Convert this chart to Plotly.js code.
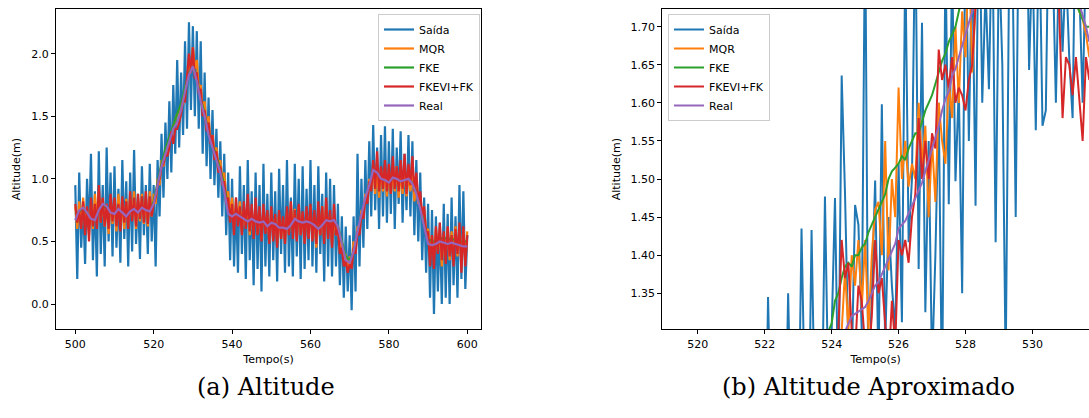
<!DOCTYPE html>
<html>
<head>
<meta charset="utf-8">
<script src="https://cdn.plot.ly/plotly-3.0.1.min.js"></script>
<style>
html,body{margin:0;padding:0;background:#fff;}
#chart{width:1089px;height:418px;}
</style>
</head>
<body>
<div id="chart"></div>
<script>
// ---------- full run (left panel), sampled every 0.5 s from 500 s ----------
const fullStart = 500;
const fastStep = 0.5;
const slowStep = 1.0;

const saida = [
  0.95,0.20,1.05,0.45,0.80,0.32,1.00,0.55,1.20,0.35,0.90,0.22,1.22,0.40,0.95,0.30,1.25,0.50,1.05,0.38,
  1.10,0.45,0.92,0.33,1.15,0.52,0.98,0.30,1.05,0.42,1.23,0.48,0.88,0.36,1.10,0.55,0.95,0.40,1.12,0.50,
  0.95,0.30,1.15,0.70,1.36,0.85,1.45,1.00,1.62,1.05,1.75,1.20,1.95,1.25,1.85,1.35,2.10,1.40,2.25,1.55,
  2.22,1.50,2.18,1.40,2.10,1.20,1.85,1.10,1.65,1.00,1.55,0.95,1.40,0.85,1.30,0.70,1.20,0.55,1.05,0.35,
  1.00,0.30,0.85,0.25,1.10,0.40,0.95,0.20,1.15,0.35,0.90,0.15,1.05,0.28,0.95,0.10,1.12,0.30,0.88,0.22,
  1.05,0.35,0.90,0.18,1.08,0.40,0.95,0.25,1.15,0.30,0.85,0.22,1.12,0.38,1.00,0.20,1.10,0.28,0.92,0.35,
  1.15,0.30,0.95,0.25,1.10,0.40,0.88,0.18,1.05,0.30,1.00,0.22,0.95,0.30,0.80,0.15,0.70,0.05,0.62,0.10,
  0.55,-0.05,0.70,0.10,1.20,0.30,1.00,0.45,1.15,0.60,1.30,0.70,1.43,0.75,1.25,0.60,1.35,0.70,1.42,0.65,
  1.30,0.72,1.40,0.60,1.25,0.80,1.38,0.65,1.20,0.75,1.35,0.70,1.30,0.55,1.15,0.50,1.05,0.35,0.85,0.25,
  0.80,0.05,0.75,-0.08,0.70,0.10,0.65,0.00,0.80,0.05,0.72,0.00,0.85,0.15,0.70,0.05,0.95,0.20,0.90,0.12,0.55
];

const mqr = [
  0.78,0.60,0.82,0.62,0.85,0.66,0.76,0.58,0.80,0.60,0.88,0.68,0.90,0.65,0.84,0.62,0.80,0.56,0.85,0.64,
  0.82,0.58,0.88,0.64,0.78,0.60,0.84,0.62,0.86,0.68,0.90,0.60,0.82,0.66,0.88,0.64,0.85,0.62,0.90,0.70,
  0.88,0.80,1.00,0.95,1.15,1.10,1.22,1.20,1.32,1.36,1.42,1.48,1.52,1.50,1.58,1.60,1.72,1.78,1.92,1.85,
  2.05,1.88,1.95,1.72,1.75,1.55,1.62,1.40,1.50,1.30,1.35,1.22,1.25,1.10,1.15,0.98,1.05,0.85,0.90,0.72,
  0.85,0.62,0.78,0.68,0.82,0.58,0.75,0.62,0.80,0.55,0.72,0.60,0.78,0.56,0.74,0.52,0.76,0.58,0.70,0.50,
  0.75,0.55,0.70,0.48,0.72,0.52,0.68,0.50,0.74,0.56,0.80,0.58,0.76,0.52,0.78,0.55,0.72,0.50,0.75,0.54,
  0.78,0.52,0.70,0.45,0.72,0.55,0.78,0.50,0.80,0.56,0.72,0.48,0.70,0.55,0.62,0.42,0.50,0.35,0.40,0.28,
  0.38,0.30,0.50,0.42,0.62,0.58,0.75,0.70,0.88,0.82,1.00,0.92,1.10,0.88,1.05,0.85,1.08,0.90,1.05,0.86,
  1.08,0.88,1.05,0.90,1.10,0.85,1.06,0.88,1.12,0.86,1.05,0.90,1.08,0.82,0.95,0.80,0.85,0.70,0.75,0.58,
  0.60,0.45,0.55,0.38,0.60,0.42,0.58,0.30,0.55,0.40,0.60,0.35,0.58,0.42,0.62,0.38,0.55,0.40,0.60,0.35,0.58
];

const fkevi = [
  0.80,0.65,0.75,0.60,0.82,0.55,0.78,0.50,0.85,0.62,0.80,0.60,0.95,0.65,0.85,0.62,0.80,0.60,0.88,0.66,
  0.85,0.62,0.80,0.58,0.86,0.65,0.82,0.60,0.90,0.66,0.85,0.62,0.88,0.68,0.86,0.65,0.90,0.64,0.86,0.70,
  0.80,0.85,0.95,1.00,1.10,1.12,1.20,1.18,1.25,1.38,1.28,1.40,1.40,1.45,1.52,1.63,1.62,1.80,2.00,1.85,
  2.05,1.80,1.85,1.68,1.72,1.50,1.55,1.38,1.45,1.28,1.35,1.15,1.22,1.05,1.10,0.95,0.98,0.80,0.85,0.65,
  0.80,0.55,0.85,0.62,0.78,0.55,0.82,0.60,0.88,0.58,0.80,0.52,0.85,0.55,0.78,0.50,0.80,0.56,0.75,0.48,
  0.78,0.50,0.72,0.45,0.75,0.52,0.70,0.48,0.78,0.55,0.82,0.52,0.75,0.50,0.80,0.55,0.74,0.48,0.78,0.52,
  0.80,0.50,0.75,0.48,0.82,0.55,0.78,0.48,0.85,0.52,0.75,0.45,0.80,0.55,0.60,0.40,0.45,0.30,0.35,0.25,
  0.32,0.28,0.45,0.40,0.58,0.55,0.72,0.68,0.85,0.80,0.98,0.90,1.15,0.92,1.22,0.90,1.10,0.92,1.15,0.90,
  1.12,0.88,1.18,0.92,1.10,0.90,1.15,0.92,1.20,0.88,1.12,0.95,1.18,0.90,1.05,0.82,0.90,0.70,0.78,0.55,
  0.58,0.30,0.55,0.28,0.62,0.40,0.65,0.35,0.58,0.32,0.62,0.38,0.55,0.30,0.60,0.40,0.65,0.25,0.62,0.30,0.55
];

// sampled every 1 s from 500 s
const fke = [
  0.72,0.74,0.76,0.72,0.70,0.70,0.74,0.78,0.77,0.74,0.73,0.75,0.74,0.72,0.74,0.76,0.74,0.76,0.75,0.75,
  0.82,0.98,1.12,1.24,1.34,1.44,1.52,1.60,1.72,1.85,1.90,1.80,1.65,1.52,1.38,1.28,1.18,1.08,0.95,0.78,
  0.72,0.72,0.71,0.69,0.67,0.68,0.67,0.66,0.66,0.64,0.65,0.64,0.62,0.62,0.61,0.63,0.67,0.66,0.65,0.66,
  0.65,0.64,0.62,0.63,0.66,0.66,0.66,0.62,0.50,0.38,0.35,0.42,0.56,0.70,0.83,0.94,1.04,1.04,1.00,0.99,
  0.98,1.00,1.00,0.98,0.99,1.00,0.97,0.90,0.78,0.64,0.52,0.50,0.50,0.52,0.53,0.52,0.52,0.51,0.50,0.50,0.50
];

const real = [
  0.67,0.75,0.77,0.73,0.68,0.67,0.75,0.80,0.78,0.73,0.72,0.76,0.73,0.70,0.74,0.76,0.73,0.77,0.75,0.74,
  0.80,0.95,1.10,1.20,1.30,1.40,1.45,1.55,1.70,1.83,1.90,1.78,1.62,1.50,1.35,1.25,1.15,1.05,0.90,0.72,
  0.70,0.72,0.70,0.68,0.66,0.68,0.66,0.65,0.66,0.62,0.65,0.64,0.61,0.61,0.60,0.63,0.68,0.66,0.65,0.66,
  0.65,0.63,0.60,0.63,0.67,0.66,0.67,0.62,0.48,0.35,0.33,0.42,0.58,0.72,0.85,0.95,1.07,1.05,1.00,0.99,
  0.97,1.01,1.00,0.98,0.99,1.00,0.96,0.88,0.76,0.62,0.48,0.47,0.48,0.50,0.49,0.48,0.49,0.48,0.47,0.46,0.46
];

// ---------- close-up (right panel), sampled every 0.1 s ----------
const zoomStep = 0.1;
const zoomSaidaStart = 521.8;
const zoomSaida = [
  1.10,1.20,1.05,1.345,1.15,1.25,1.08,1.20,1.10,1.35,
  1.15,1.28,1.12,1.435,1.20,1.10,1.433,1.18,1.28,1.15,
  1.477,1.22,1.30,1.475,1.20,1.636,1.48,1.28,1.25,1.466,
  1.44,1.30,1.85,1.20,1.35,1.498,1.25,1.598,1.28,1.45,
  1.36,1.30,1.52,1.312,1.80,1.417,1.50,1.85,1.382,1.705,
  1.325,1.55,1.25,1.40,1.60,1.20,1.80,1.467,1.78,1.497,
  1.62,1.35,1.85,1.55,1.80,1.465,1.90,1.60,1.75,1.618,
  1.85,1.417,1.80,1.65,1.25,1.76,1.80,1.45,1.90,1.75,
  1.95,1.643,1.80,1.564,1.85,1.57,1.59,1.90,1.80,1.60,
  1.80,1.667,1.78,1.66,1.58,1.90,1.75,1.60,1.80,1.85
];
const zoomMqrStart = 524.2;
const zoomMqr = [
  1.25,1.30,1.38,1.30,1.40,1.36,1.42,1.33,1.42,1.30,
  1.40,1.46,1.47,1.40,1.55,1.38,1.50,1.45,1.62,1.50,
  1.55,1.49,1.52,1.50,1.60,1.52,1.57,1.45,1.55,1.47,
  1.60,1.55,1.52,1.63,1.58,1.70,1.60,1.72,1.66,1.80,
  1.64,1.78,1.85,1.90,1.88,1.95,1.90,1.92,1.98,1.95,
  1.98,2.00,1.95,2.02,1.98,1.95,1.90,1.92,1.88,1.85,
  1.88,1.82,1.85,1.80,1.82,1.78,1.80,1.76,1.78,1.75,
  1.77,1.78,1.72,1.71,1.69,1.66
];
const zoomFkeStart = 523.8;
const zoomFke = [
  1.28,1.30,1.31,1.34,1.35,1.37,1.385,1.39,1.385,1.40,
  1.40,1.41,1.415,1.43,1.44,1.45,1.46,1.47,1.48,1.50,
  1.51,1.515,1.52,1.53,1.525,1.54,1.55,1.56,1.56,1.575,
  1.59,1.60,1.61,1.625,1.64,1.655,1.665,1.68,1.69,1.70,
  1.72,1.74,1.76,1.78,1.80,1.83,1.85,1.88,1.90,1.92,
  1.94,1.96,1.98,2.00,2.02,2.03,2.04,2.03,2.00,1.97,
  1.94,1.90,1.87,1.84,1.81,1.79,1.77,1.76,1.75,1.74,
  1.76,1.75,1.75,1.74,1.74,1.73,1.72,1.71,1.70,1.70
];
const zoomFkeviStart = 524.1;
const zoomFkevi = [
  1.25,1.30,1.42,1.37,1.39,1.30,1.27,1.36,1.34,1.28,
  1.26,1.32,1.42,1.35,1.37,1.30,1.25,1.34,1.28,1.42,
  1.40,1.42,1.39,1.45,1.48,1.58,1.50,1.55,1.50,1.56,
  1.54,1.67,1.63,1.65,1.62,1.66,1.60,1.62,1.61,1.59,
  1.63,1.65,1.75,1.85,1.92,1.98,2.05,2.02,2.08,2.00,
  1.95,2.00,1.92,1.96,1.90,1.88,1.92,1.85,1.86,1.82,
  1.84,1.80,1.83,1.78,1.80,1.76,1.80,1.72,1.58,1.66,
  1.65,1.61,1.66,1.60,1.55,1.66,1.63
];
const zoomRealStart = 524.3;
const zoomReal = [
  1.29,1.30,1.31,1.32,1.323,1.326,1.33,1.332,1.34,1.35,
  1.36,1.365,1.375,1.385,1.395,1.405,1.415,1.435,1.44,1.445,
  1.455,1.465,1.475,1.485,1.495,1.51,1.525,1.54,1.555,1.57,
  1.59,1.605,1.615,1.635,1.645,1.66,1.675,1.69,1.705,1.72,
  1.74,1.76,1.78,1.80,1.82,1.84,1.86,1.88,1.89,1.90,
  1.91,1.91,1.90,1.90,1.89,1.88,1.87,1.86,1.85,1.84,
  1.84,1.83,1.82,1.81,1.80,1.79,1.78,1.77,1.77,1.76,
  1.75,1.73,1.715,1.70,1.68
];

const seriesNames = ['Saída','MQR','FKE','FKEVI+FK','Real'];
const seriesColors = ['#1f77b4','#ff7f0e','#2ca02c','#d62728','#9467bd'];
const xTickVals = [500,520,540,560,580,600];
const yTickVals = [0,0.5,1.0,1.5,2.0];
const x2TickVals = [520,522,524,526,528,530];
const y2TickVals = [1.35,1.40,1.45,1.50,1.55,1.60,1.65,1.70];

const FONT = 'DejaVu Sans, sans-serif';

function tr(y, start, step, i, xa, ya, lg, w){
  return {type:'scatter', mode:'lines', y:y, x0:start, dx:step,
    name:seriesNames[i], line:{color:seriesColors[i], width:w},
    xaxis:xa, yaxis:ya, legend:lg, showlegend:true, hoverinfo:'skip'};
}

const data = [
  tr(saida, fullStart, fastStep, 0, 'x','y','legend', 2.2),
  tr(mqr,   fullStart, fastStep, 1, 'x','y','legend', 2.2),
  tr(fke,   fullStart, slowStep, 2, 'x','y','legend', 2.2),
  tr(fkevi, fullStart, fastStep, 3, 'x','y','legend', 2.2),
  tr(real,  fullStart, slowStep, 4, 'x','y','legend', 2.2),
  tr(zoomSaida, zoomSaidaStart, zoomStep, 0, 'x2','y2','legend2', 2),
  tr(zoomMqr,   zoomMqrStart,   zoomStep, 1, 'x2','y2','legend2', 2),
  tr(zoomFke,   zoomFkeStart,   zoomStep, 2, 'x2','y2','legend2', 2),
  tr(zoomFkevi, zoomFkeviStart, zoomStep, 3, 'x2','y2','legend2', 2),
  tr(zoomReal,  zoomRealStart,  zoomStep, 4, 'x2','y2','legend2', 2)
];

const W = 1089, H = 418;
const axBase = {showgrid:false, zeroline:false, showline:true, linecolor:'#000', linewidth:1,
  ticks:'outside', ticklen:4, tickwidth:1, tickcolor:'#000',
  tickfont:{family:FONT, size:11, color:'#000'}, automargin:false, fixedrange:true};

const layout = {
  width:W, height:H,
  margin:{l:0,r:0,t:0,b:0},
  paper_bgcolor:'#fff', plot_bgcolor:'#fff',
  font:{family:FONT, size:11, color:'#000'},
  xaxis: Object.assign({}, axBase, {domain:[56/W, 481/W], range:[495.08, 603.5], mirror:true,
    tickvals:xTickVals, ticktext:xTickVals.map(String), anchor:'y',
    title:{text:'Tempo(s)', font:{family:FONT,size:11,color:'#000'}, standoff:5}}),
  yaxis: Object.assign({}, axBase, {domain:[1-329.3/H, 1-9/H], range:[-0.202, 2.357], mirror:true,
    tickvals:yTickVals, ticktext:yTickVals.map(v=>v.toFixed(1)), anchor:'x',
    title:{text:'Altitude(m)', font:{family:FONT,size:11,color:'#000'}, standoff:8}}),
  xaxis2: Object.assign({}, axBase, {domain:[662.3/W, 1], range:[518.94, 531.69], mirror:true,
    tickvals:x2TickVals, ticktext:x2TickVals.map(String), anchor:'y2',
    title:{text:'Tempo(s)', font:{family:FONT,size:11,color:'#000'}, standoff:5}}),
  yaxis2: Object.assign({}, axBase, {domain:[1-329.3/H, 1-9/H], range:[1.3027, 1.7232], mirror:false,
    tickvals:y2TickVals, ticktext:y2TickVals.map(v=>v.toFixed(2)), anchor:'x2',
    title:{text:'Altitude(m)', font:{family:FONT,size:11,color:'#000'}, standoff:7}}),
  legend:{x:480/W, xanchor:'right', y:1-14/H, yanchor:'top', bgcolor:'rgba(255,255,255,0.85)',
    bordercolor:'#cccccc', borderwidth:1, font:{family:FONT,size:11,color:'#000'}, tracegroupgap:0},
  legend2:{x:668/W, xanchor:'left', y:1-14/H, yanchor:'top', bgcolor:'rgba(255,255,255,0.85)',
    bordercolor:'#cccccc', borderwidth:1, font:{family:FONT,size:11,color:'#000'}, tracegroupgap:0},
  annotations:[
    {text:'(a) Altitude', xref:'paper', yref:'paper', x:266/W, y:1-387/H, xanchor:'center', yanchor:'middle',
     showarrow:false, font:{family:'DejaVu Serif, serif', size:24, color:'#000'}},
    {text:'(b) Altitude Aproximado', xref:'paper', yref:'paper', x:868/W, y:1-387/H, xanchor:'center', yanchor:'middle',
     showarrow:false, font:{family:'DejaVu Serif, serif', size:24, color:'#000'}}
  ],
  showlegend:true
};

Plotly.newPlot('chart', data, layout, {staticPlot:true, displayModeBar:false});
</script>
</body>
</html>
